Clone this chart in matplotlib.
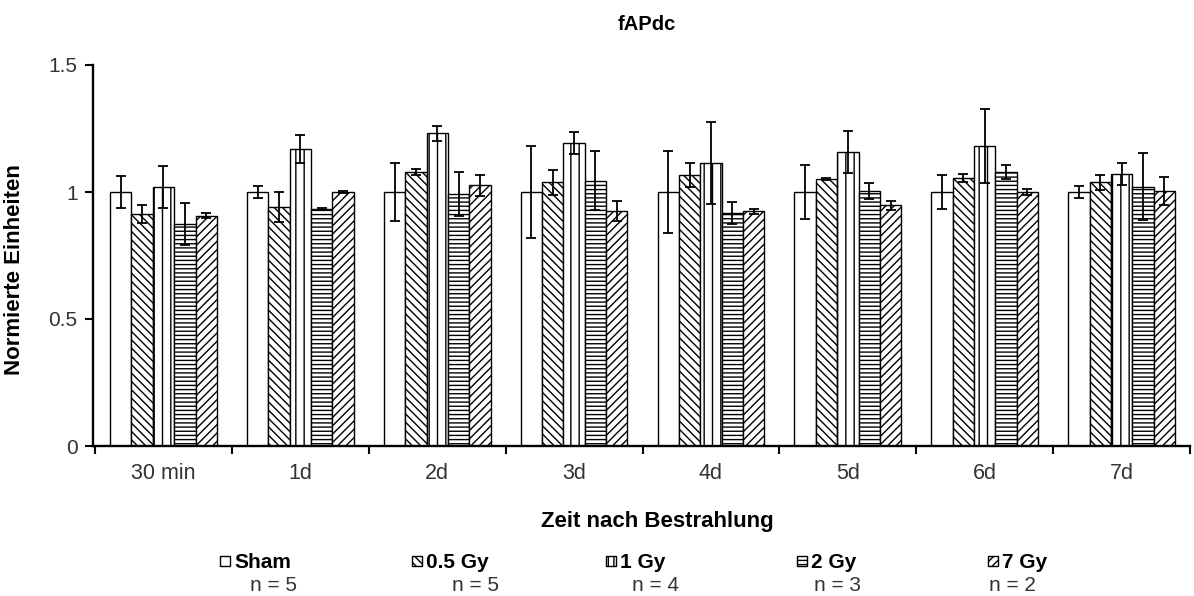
import matplotlib
matplotlib.use("Agg")
import matplotlib.pyplot as plt
import numpy as np
from matplotlib.patches import Rectangle

plt.rcParams['font.family'] = ['Liberation Sans', 'DejaVu Sans']
plt.rcParams['hatch.linewidth'] = 1.0

categories = ["30 min", "1d", "2d", "3d", "4d", "5d", "6d", "7d"]
series_names = ["Sham", "0.5 Gy", "1 Gy", "2 Gy", "7 Gy"]
n_values = ["n = 5", "n = 5", "n = 4", "n = 3", "n = 2"]

sham      = [1.00, 1.00, 1.00, 1.00, 1.00, 1.00, 1.00, 1.00]
sham_err  = [0.063, 0.023, 0.114, 0.180, 0.160, 0.107, 0.067, 0.023]
gy05      = [0.913, 0.941, 1.079, 1.038, 1.067, 1.051, 1.055, 1.038]
gy05_err  = [0.037, 0.058, 0.013, 0.050, 0.046, 0.003, 0.017, 0.030]
gy1       = [1.021, 1.169, 1.231, 1.192, 1.113, 1.157, 1.181, 1.072]
gy1_err   = [0.083, 0.056, 0.030, 0.043, 0.162, 0.083, 0.145, 0.043]
gy2       = [0.873, 0.933, 0.992, 1.045, 0.916, 1.005, 1.079, 1.021]
gy2_err   = [0.082, 0.003, 0.088, 0.115, 0.043, 0.032, 0.027, 0.133]
gy7       = [0.907, 1.000, 1.026, 0.924, 0.924, 0.947, 1.000, 1.004]
gy7_err   = [0.011, 0.003, 0.040, 0.040, 0.010, 0.017, 0.010, 0.055]

values = [sham, gy05, gy1, gy2, gy7]
errors = [sham_err, gy05_err, gy1_err, gy2_err, gy7_err]
hatches = ["", "\\\\\\\\", "||", "----", "////"]

W, H = 1194, 596
fig = plt.figure(figsize=(W / 100, H / 100), dpi=100)
ax = fig.add_axes([93 / W, 1 - 446 / H, (1190 - 93) / W, (446 - 65) / H])

x = np.arange(len(categories))
bw = 0.156
for i, (vals, errs, h) in enumerate(zip(values, errors, hatches)):
    pos = x + (i - 2) * bw
    ax.bar(pos, vals, width=bw, color="white", edgecolor="black",
           linewidth=1.0, hatch=h, zorder=2)
    ax.errorbar(pos, vals, yerr=errs, fmt="none", ecolor="black",
                elinewidth=1.3, capsize=3.5, capthick=1.3, zorder=3)

ax.set_xlim(-0.515, 7.5)
ax.set_ylim(0, 1.5)
ax.set_yticks([0, 0.5, 1, 1.5])
ax.set_yticklabels(["0", "0.5", "1", "1.5"])
ax.set_xticks(x)
ax.set_xticklabels(categories)
ax.set_xticks(np.arange(-0.5, 8.0, 1.0), minor=True)
ax.tick_params(axis="x", which="major", length=0, pad=12, labelsize=15.5, labelcolor="#333333")
ax.tick_params(axis="x", which="minor", length=6, width=1.5, direction="out")
ax.tick_params(axis="y", length=6, width=1.5, direction="out", labelsize=15,
               labelcolor="#333333", pad=5)
for s in ["top", "right"]:
    ax.spines[s].set_visible(False)
for s in ["left", "bottom"]:
    ax.spines[s].set_linewidth(1.7)

fig.text(15 / W, 1 - 270 / H, "Normierte Einheiten", fontsize=16, fontweight="bold",
         rotation=90, ha="center", va="center")
fig.text(657 / W, 1 - 521 / H, "Zeit nach Bestrahlung", fontsize=16, fontweight="bold",
         ha="center", va="center")
fig.text(647 / W, 1 - 24 / H, "fAPdc", fontsize=14.5, fontweight="bold",
         ha="center", va="center")

# legend
lax = fig.add_axes([0, 0, 1, 1], zorder=5)
lax.set_xlim(0, W)
lax.set_ylim(H, 0)
lax.axis("off")
marker_x = [220, 412, 606, 797, 988]
n_x = [274, 475, 655, 837, 1012]
for mx, nx, name, nv, h in zip(marker_x, n_x, series_names, n_values, hatches):
    lax.add_patch(Rectangle((mx, 556), 10, 10, facecolor="white", edgecolor="black",
                            linewidth=1.0, hatch=h.replace("||", "|||")))
    lax.text(mx + 14, 568, name, fontsize=15, fontweight="bold", ha="left",
             va="baseline")
    lax.text(nx, 591, nv, fontsize=15, ha="center", va="baseline", color="#333333")

fig.savefig("out.png", dpi=100)
